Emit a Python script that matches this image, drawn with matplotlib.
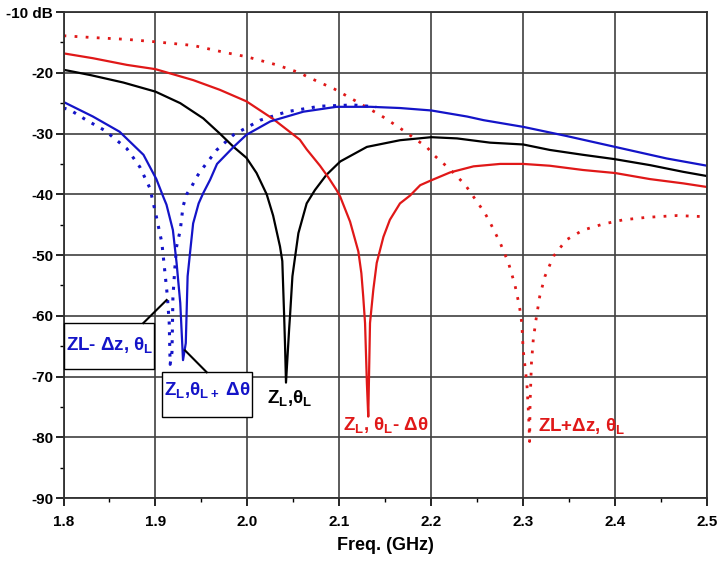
import matplotlib
matplotlib.use('Agg')
import matplotlib.pyplot as plt
from matplotlib.patches import Rectangle
from matplotlib.ticker import MultipleLocator

plt.rcParams['font.family'] = ['Liberation Sans', 'DejaVu Sans']
plt.rcParams['font.weight'] = 'bold'
plt.rcParams['mathtext.fontset'] = 'custom'
plt.rcParams['mathtext.rm'] = 'Liberation Sans:bold'
plt.rcParams['mathtext.it'] = 'Liberation Sans:bold'
plt.rcParams['mathtext.bf'] = 'Liberation Sans:bold'

# ZL, thetaL (black solid)
f_black = [1.800, 1.830, 1.865, 1.900, 1.927, 1.952, 1.970, 1.985, 1.999, 2.010, 2.021, 2.028,
           2.0355, 2.038, 2.040, 2.041, 2.042, 2.0455, 2.0464, 2.049, 2.052, 2.0555, 2.0645,
           2.0735, 2.086, 2.101, 2.130, 2.166, 2.200, 2.228, 2.264, 2.300, 2.329, 2.365,
           2.399, 2.438, 2.474, 2.500]
db_black = [-19.5, -20.4, -21.6, -23.1, -25.0, -27.5, -30.0, -32.2, -34.0, -36.5, -40.0, -43.5,
            -48.6, -51.0, -60.0, -65.0, -71.0, -62.0, -60.0, -53.5, -50.2, -46.4, -41.5,
            -39.3, -36.8, -34.6, -32.2, -31.1, -30.6, -30.8, -31.5, -31.8, -32.7, -33.5,
            -34.2, -35.2, -36.3, -37.0]

# ZL, thetaL + dtheta (blue solid)
f_blue = [1.800, 1.832, 1.861, 1.887, 1.901, 1.909, 1.912, 1.919, 1.923, 1.927, 1.930,
          1.933, 1.935, 1.938, 1.941, 1.947, 1.952, 1.9595, 1.967, 1.985, 1.999, 2.025,
          2.061, 2.097, 2.134, 2.166, 2.200, 2.239, 2.257, 2.300, 2.347, 2.400, 2.456, 2.500]
db_blue = [-24.8, -27.2, -29.7, -33.5, -37.5, -40.6, -41.7, -45.9, -51.3, -57.9, -67.3,
           -64.5, -53.5, -49.1, -44.8, -41.5, -39.8, -37.6, -35.0, -32.2, -30.2, -28.0,
           -26.4, -25.6, -25.6, -25.8, -26.2, -27.2, -27.8, -28.9, -30.4, -32.2, -34.1, -35.3]

# ZL - dz, thetaL (blue dotted)
f_blue_dot = [1.800, 1.807, 1.825, 1.845, 1.869, 1.883, 1.894, 1.901, 1.907, 1.910, 1.913,
              1.915, 1.916, 1.918, 1.919, 1.921, 1.923, 1.927, 1.930, 1.934, 1.9395, 1.945,
              1.950, 1.9667, 1.985, 2.014, 2.043, 2.079, 2.115, 2.140]
db_blue_dot = [-25.8, -26.1, -27.8, -29.5, -32.5, -35.5, -39.0, -43.7, -48.0, -52.4, -56.8,
               -61.2, -68.0, -66.0, -57.0, -52.4, -48.6, -45.9, -42.0, -40.0, -38.7, -37.1,
               -36.0, -32.7, -30.2, -27.8, -26.4, -25.5, -25.3, -25.6]

# ZL, thetaL - dtheta (red solid)
f_red = [1.800, 1.832, 1.869, 1.900, 1.941, 1.970, 1.999, 2.028, 2.057, 2.0645, 2.079,
         2.088, 2.097, 2.101, 2.1117, 2.1207, 2.124, 2.126, 2.128, 2.130, 2.1315, 2.1334,
         2.137, 2.1407, 2.148, 2.155, 2.166, 2.177, 2.188, 2.200, 2.2205, 2.246, 2.275,
         2.300, 2.329, 2.365, 2.400, 2.438, 2.474, 2.500]
db_red = [-16.8, -17.6, -18.7, -19.4, -21.2, -22.8, -24.7, -27.6, -31.0, -32.6, -35.3,
          -37.2, -39.3, -40.4, -44.5, -49.4, -53.0, -56.8, -61.2, -71.1, -76.6, -61.2,
          -55.7, -51.3, -47.0, -44.2, -41.5, -40.2, -38.5, -37.7, -36.4, -35.4, -35.0,
          -35.0, -35.3, -36.0, -36.5, -37.5, -38.2, -38.8]

# ZL + dz, thetaL (red dotted)
f_red_dot = [1.800, 1.832, 1.869, 1.900, 1.941, 1.977, 1.999, 2.032, 2.057, 2.0645, 2.095,
             2.115, 2.146, 2.166, 2.184, 2.195, 2.2025, 2.213, 2.2205, 2.237, 2.251, 2.258,
             2.264, 2.275, 2.284, 2.291, 2.296, 2.2985, 2.300, 2.304, 2.306, 2.307, 2.3075,
             2.309, 2.311, 2.314, 2.318, 2.3237, 2.333, 2.347, 2.365, 2.387, 2.409, 2.434,
             2.467, 2.500]
db_red_dot = [-13.9, -14.2, -14.5, -14.9, -15.5, -16.7, -17.35, -18.7, -20.0, -20.6, -22.7,
              -24.4, -27.1, -29.1, -31.05, -32.2, -33.5, -34.9, -35.9, -38.45, -41.5, -43.0,
              -44.65, -48.0, -51.3, -54.9, -58.5, -61.2, -65.6, -71.1, -76.6, -80.7, -74.4,
              -67.8, -63.9, -60.6, -56.8, -53.5, -50.2, -47.5, -45.9, -44.9, -44.2, -43.8,
              -43.5, -43.7]

x_ticks = [1.8, 1.9, 2.0, 2.1, 2.2, 2.3, 2.4, 2.5]
x_labels = ['1.8', '1.9', '2.0', '2.1', '2.2', '2.3', '2.4', '2.5']
y_ticks = [-90, -80, -70, -60, -50, -40, -30, -20, -10]
y_labels = ['-90', '-80', '-70', '-60', '-50', '-40', '-30', '-20', '-10 dB']

BLUE = '#1414c8'
RED = '#e01818'

fig = plt.figure(figsize=(7.2, 5.71), dpi=100)
ax = fig.add_axes([0.0882, 0.1278, 0.8938, 0.8511])

ax.plot(f_red_dot, db_red_dot, color=RED, lw=2.0, linestyle=(0, (1, 3)))
ax.plot(f_blue_dot, db_blue_dot, color=BLUE, lw=2.2, linestyle=(0, (1, 2.5)))
ax.plot(f_black, db_black, color='black', lw=1.6)
ax.plot(f_red, db_red, color=RED, lw=1.6)
ax.plot(f_blue, db_blue, color=BLUE, lw=1.6)

ax.set_xlim(1.8, 2.5)
ax.set_ylim(-90, -10)
ax.set_xticks(x_ticks)
ax.set_xticklabels(x_labels)
ax.set_yticks(y_ticks)
ax.set_yticklabels(y_labels)
ax.xaxis.set_minor_locator(MultipleLocator(0.05))
ax.yaxis.set_minor_locator(MultipleLocator(5))
ax.tick_params(which='major', direction='out', length=6, width=1.2, labelsize=11, pad=1.5)
ax.tick_params(axis='x', which='major', pad=6)
ax.tick_params(which='minor', direction='out', length=3, width=1.0)
ax.grid(True, which='major', color='#404040', lw=1.2)
for s in ax.spines.values():
    s.set_color('#303030')
    s.set_linewidth(1.3)
ax.set_xlabel('Freq. (GHz)', fontsize=13, fontweight='bold', labelpad=6)

# annotations
ax.add_patch(Rectangle((1.8, -68.8), 0.098, 7.6, facecolor='white', edgecolor='black',
                       lw=1.0, zorder=5, clip_on=False))
ax.text(1.8027, -64.8, r'ZL- Δz, θ$_\mathrm{L}$', color=BLUE, fontsize=13.5,
        fontweight='bold', ha='left', va='center', zorder=6)
ax.plot([1.8868, 1.9122], [-61.2, -57.4], color='black', lw=1.5, zorder=6)

ax.add_patch(Rectangle((1.9068, -76.7), 0.0986, 7.4, facecolor='white', edgecolor='black',
                       lw=1.0, zorder=5))
ax.text(1.9093, -72.2, r'Z$_\mathrm{L}$,θ$_\mathrm{L+}$ Δθ', color=BLUE, fontsize=13.5,
        fontweight='bold', ha='left', va='center', zorder=6)
ax.plot([1.9322, 1.9558], [-65.7, -69.3], color='black', lw=1.5, zorder=6)

ax.text(2.0211, -73.5, r'Z$_\mathrm{L}$,θ$_\mathrm{L}$', color='black', fontsize=13.5,
        fontweight='bold', ha='left', va='center', zorder=6)
ax.text(2.104, -77.9, r'Z$_\mathrm{L}$, θ$_\mathrm{L}$- Δθ', color=RED, fontsize=13.5,
        fontweight='bold', ha='left', va='center', zorder=6)
ax.text(2.3158, -78.1, r'ZL+Δz, θ$_\mathrm{L}$', color=RED, fontsize=13.5,
        fontweight='bold', ha='left', va='center', zorder=6)

fig.savefig('out.png', dpi=100)
